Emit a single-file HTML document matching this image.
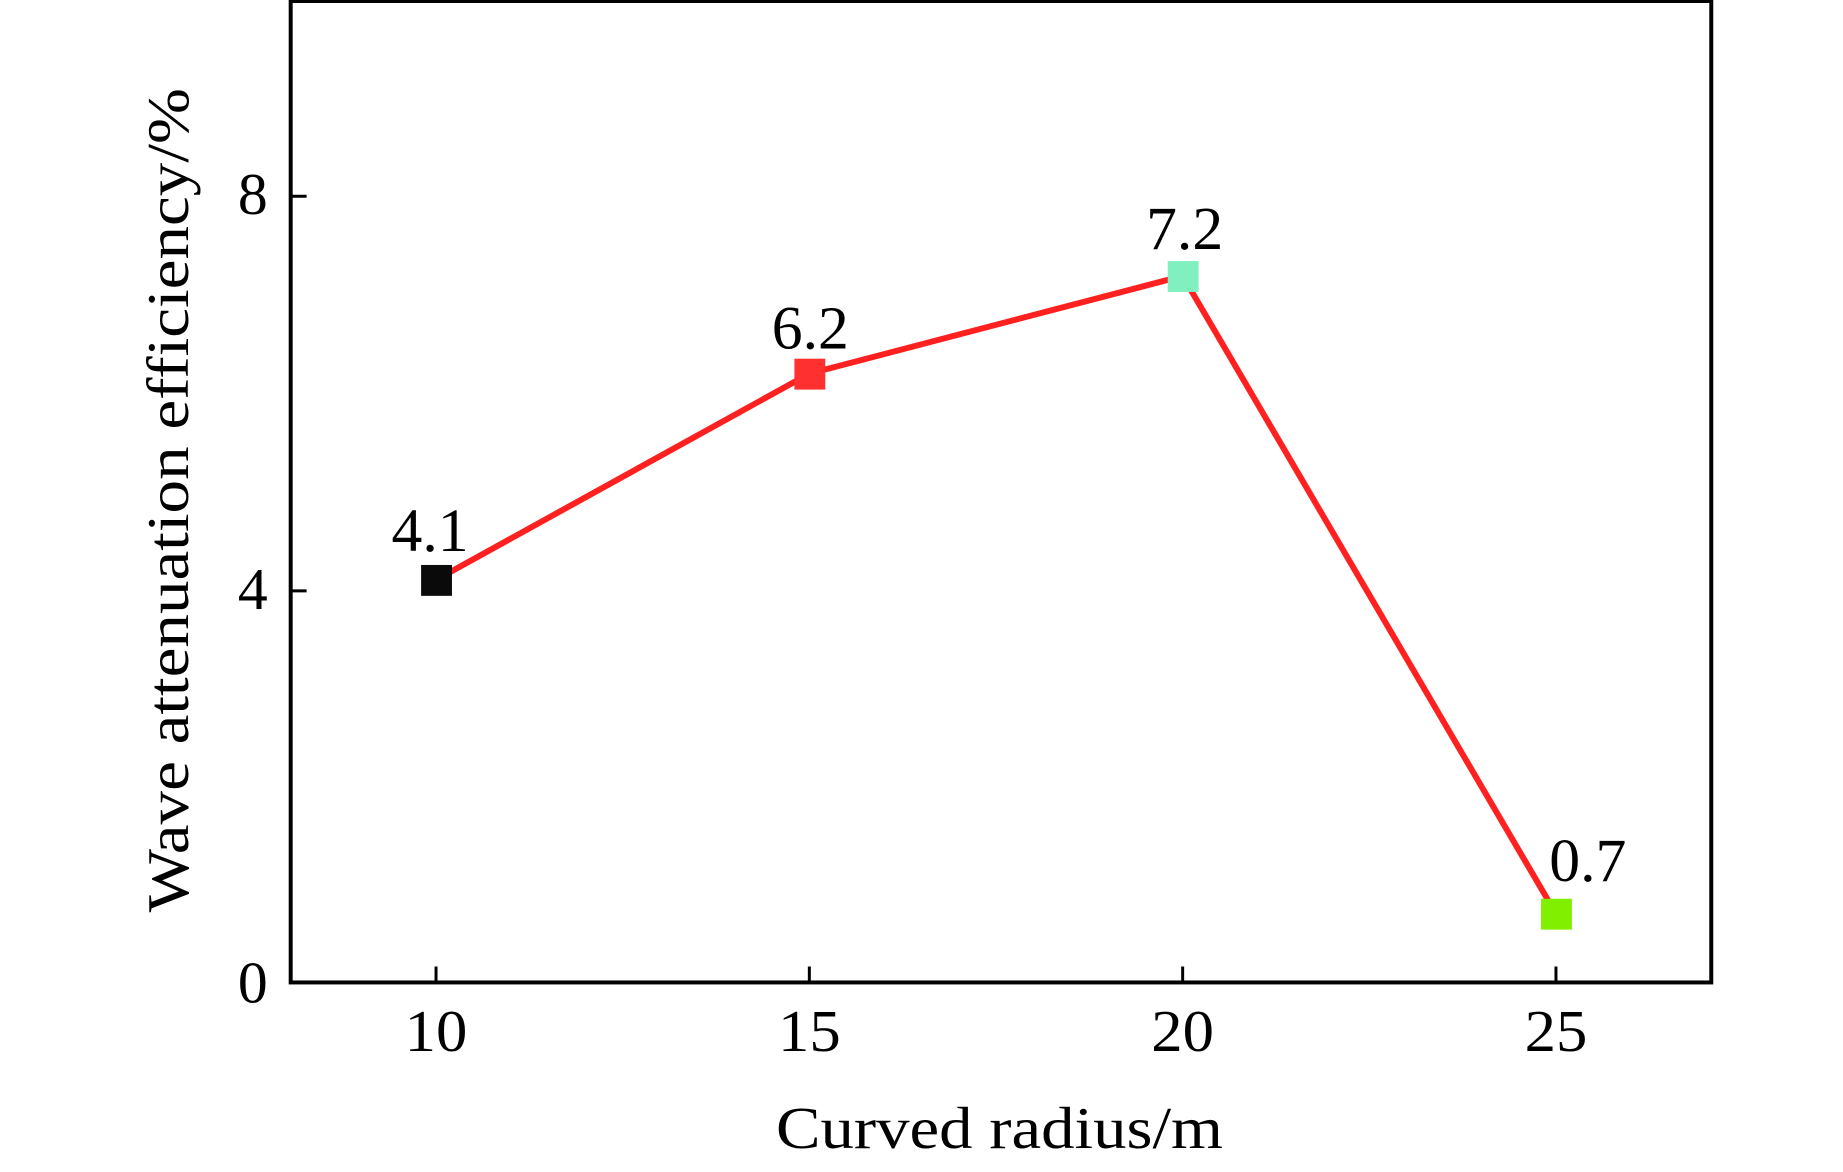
<!DOCTYPE html>
<html><head><meta charset="utf-8"><style>html,body{margin:0;padding:0;background:#fff}</style></head>
<body>
<svg width="1843" height="1167" viewBox="0 0 1843 1167" xmlns="http://www.w3.org/2000/svg" font-family="'Liberation Serif', serif" fill="#000">
<g transform="scale(0.9955,0.9964)">
<rect x="292" y="1" width="1427" height="985" fill="none" stroke="#000" stroke-width="4"/>
<g stroke="#000" stroke-width="3">
<line x1="438" y1="986" x2="438" y2="970"/>
<line x1="813" y1="986" x2="813" y2="970"/>
<line x1="1188" y1="986" x2="1188" y2="970"/>
<line x1="1563" y1="986" x2="1563" y2="970"/>
<line x1="292" y1="593" x2="308" y2="593"/>
<line x1="292" y1="197" x2="308" y2="197"/>
</g>
<g font-size="60" text-anchor="middle">
<text x="438" y="1055" textLength="63" lengthAdjust="spacingAndGlyphs">10</text>
<text x="813" y="1055" textLength="63" lengthAdjust="spacingAndGlyphs">15</text>
<text x="1188" y="1055" textLength="63" lengthAdjust="spacingAndGlyphs">20</text>
<text x="1563" y="1055" textLength="63" lengthAdjust="spacingAndGlyphs">25</text>
</g>
<g font-size="60" text-anchor="end">
<text x="269" y="1006">0</text>
<text x="269" y="611">4</text>
<text x="269" y="215">8</text>
</g>
<text x="1004" y="1152" font-size="60" text-anchor="middle" textLength="449" lengthAdjust="spacingAndGlyphs">Curved radius/m</text>
<text transform="translate(189,502) rotate(-90)" font-size="60" text-anchor="middle" textLength="827" lengthAdjust="spacingAndGlyphs">Wave attenuation efficiency/%</text>
<polyline points="438,582 813,375 1188,277 1563,917" fill="none" stroke="#ff2020" stroke-width="6"/>
<rect x="423" y="567" width="31" height="31" fill="#0a0a0a"/>
<rect x="798" y="360" width="31" height="31" fill="#ff3030"/>
<rect x="1173" y="262" width="31" height="31" fill="#80f0c0"/>
<rect x="1548" y="902" width="31" height="31" fill="#80f000"/>
<g font-size="62" text-anchor="middle">
<text x="432" y="553">4.1</text>
<text x="814" y="350">6.2</text>
<text x="1190" y="250">7.2</text>
<text x="1595" y="884">0.7</text>
</g>
</g>
</svg>
</body></html>
